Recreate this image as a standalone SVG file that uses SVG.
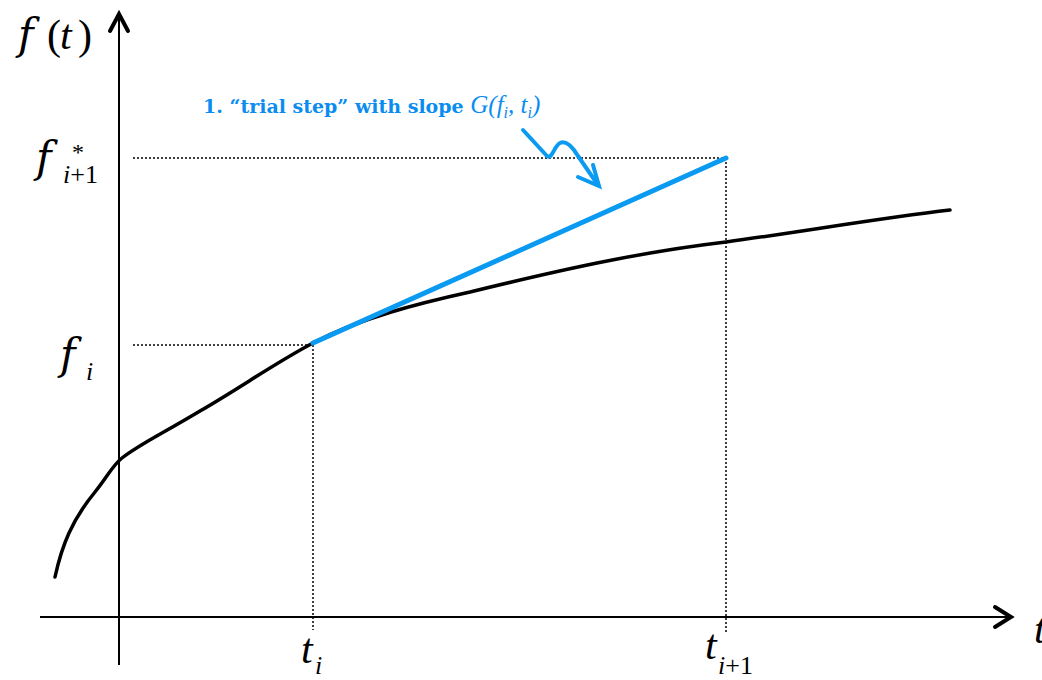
<svg xmlns="http://www.w3.org/2000/svg" width="1042" height="680" viewBox="0 0 1042 680">
<style>
.axis{stroke:#000;stroke-width:2;fill:none}
.head{stroke:#000;stroke-width:4;fill:none;stroke-linecap:round;stroke-linejoin:miter}
.dot{stroke:#000;stroke-width:1.5;stroke-dasharray:2 2;fill:none}
.curve{stroke:#000;stroke-width:3.5;fill:none;stroke-linecap:round}
.blue{stroke:#0a9af2;stroke-width:5;fill:none;stroke-linecap:round}
text{font-family:'Liberation Serif','Times New Roman',serif;fill:#000}
.m{font-style:italic}
.F{font-family:'DejaVu Serif',serif;font-style:italic}
.lbl{font-family:'DejaVu Serif',serif;font-weight:bold;fill:#0a8cf0}
.lm{font-family:'Liberation Serif',serif;font-style:italic;font-weight:normal;fill:#0a8cf0}
</style>
<rect width="1042" height="680" fill="#fff"/>
<g id="axes">
<line class="axis" x1="119" y1="14" x2="119" y2="665"/>
<polyline class="head" points="110,31 119,14 128,31"/>
<line class="axis" x1="40" y1="617" x2="1010" y2="617"/>
<polyline class="head" points="995,607 1011,617 995,627"/>
</g>
<g id="guides">
<line class="dot" x1="133" y1="158" x2="726" y2="158"/>
<line class="dot" x1="726" y1="158" x2="726" y2="633"/>
<line class="dot" x1="133" y1="345" x2="313" y2="345"/>
<line class="dot" x1="313" y1="345" x2="313" y2="630"/>
</g>
<g id="function-curve">
<path class="curve" d="M55,577 C62,545 72,520 95,492 C108,476 112,466 122,458 C140,444 160,435 200,411 C240,388 275,363 313,343 C360,318 420,303 470,292 C560,270 640,252 726,242 C800,232 880,218 950,210"/>
</g>
<g id="trial-step">
<line class="blue" x1="313" y1="343" x2="726" y2="158"/>
</g>
<g id="connectors">
<path d="M523,130 L547,156 C552,160 554,146 560,143 C566,140 572,146 578,156 L598,185" stroke="#0a9af2" stroke-width="4" fill="none" stroke-linecap="round" stroke-linejoin="round"/>
<polyline points="578,177 599,186 593,165" stroke="#0a9af2" stroke-width="4" fill="none" stroke-linecap="round"/>
</g>
<g id="labels">
<text x="18" y="49" font-size="42" class="F">f</text>
<text x="47" y="49" font-size="42">(</text>
<text x="60" y="49" font-size="42" class="m">t</text>
<text x="78" y="49" font-size="42">)</text>
<text x="36" y="172" font-size="42" class="F">f</text>
<text x="72" y="160" font-size="24">*</text>
<text x="63" y="183" font-size="26"><tspan class="m">i</tspan>+1</text>
<text x="60" y="369" font-size="42" class="F">f</text>
<text x="86" y="380" font-size="26" class="m">i</text>
<text x="301" y="663" font-size="42" class="m">t</text>
<text x="315" y="674" font-size="26" class="m">i</text>
<text x="705" y="659" font-size="42" class="m">t</text>
<text x="718" y="674" font-size="26"><tspan class="m">i</tspan>+1</text>
<text x="1034" y="643" font-size="42" class="m">t</text>
<text x="203" y="113" font-size="19" class="lbl">1. “trial step” with slope <tspan class="lm" font-size="25">G(f</tspan><tspan class="lm" font-size="16" dy="5">i</tspan><tspan class="lm" font-size="25" dy="-5">, t</tspan><tspan class="lm" font-size="16" dy="5">i</tspan><tspan class="lm" font-size="25" dy="-5">)</tspan></text>
</g>
</svg>
